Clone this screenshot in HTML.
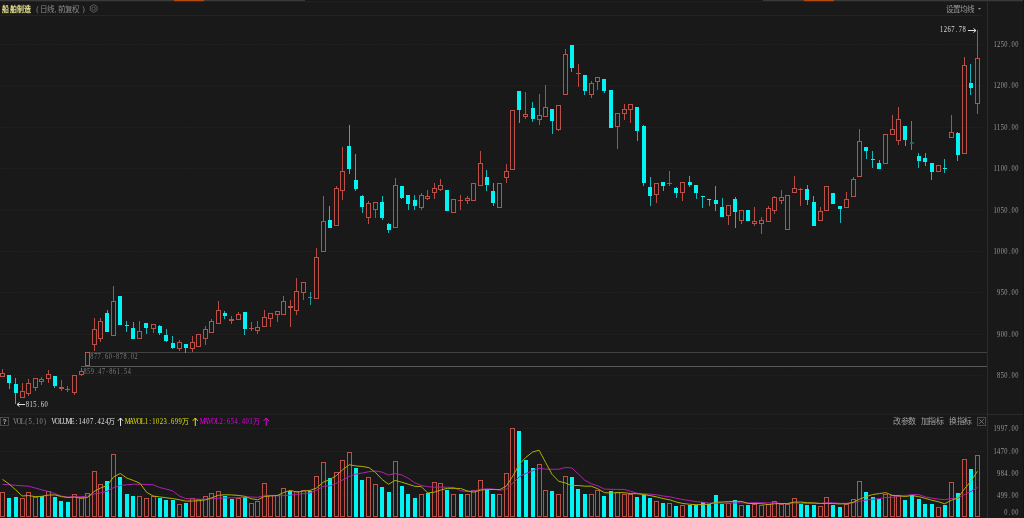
<!DOCTYPE html>
<html lang="zh-CN"><head><meta charset="utf-8">
<style>
html,body{margin:0;padding:0;background:#191919;}
body{width:1024px;height:518px;overflow:hidden;position:relative;font-family:"Liberation Sans",sans-serif;}
svg{position:absolute;left:0;top:0;filter:blur(0.35px);}
.m{font-family:"Liberation Mono",monospace;}
</style></head><body>
<svg width="1024" height="518" viewBox="0 0 1024 518">
<rect x="0" y="0" width="1024" height="518" fill="#191919"/>
<!-- top bar -->
<rect x="0" y="0" width="305" height="1.3" fill="#3a3a3a"/>
<rect x="763" y="0" width="260" height="1.3" fill="#3a3a3a"/>
<rect x="305" y="0" width="458" height="1" fill="#181818"/>
<rect x="305" y="1.2" width="458" height="0.8" fill="#222"/>
<rect x="174" y="0" width="30" height="1.2" fill="#b4480e"/>
<rect x="804" y="0" width="30" height="1.2" fill="#b4480e"/>
<!-- title underline -->
<rect x="0" y="15" width="982" height="1" fill="#242424"/>
<!-- right axis separator -->
<rect x="987" y="2" width="1" height="516" fill="#2c2c2c"/>
<rect x="1023" y="0" width="1" height="518" fill="#141414"/>
<!-- panel separator -->
<rect x="0" y="413" width="987" height="2" fill="#1e1e1e"/><rect x="988" y="414" width="35" height="1" fill="#2a2a2a"/>
<line x1="0" y1="44.5" x2="987" y2="44.5" stroke="#262626" stroke-width="1" stroke-dasharray="1 1.45"/>
<line x1="0" y1="85.5" x2="987" y2="85.5" stroke="#262626" stroke-width="1" stroke-dasharray="1 1.45"/>
<line x1="0" y1="127.5" x2="987" y2="127.5" stroke="#262626" stroke-width="1" stroke-dasharray="1 1.45"/>
<line x1="0" y1="168.5" x2="987" y2="168.5" stroke="#262626" stroke-width="1" stroke-dasharray="1 1.45"/>
<line x1="0" y1="210.5" x2="987" y2="210.5" stroke="#262626" stroke-width="1" stroke-dasharray="1 1.45"/>
<line x1="0" y1="251.5" x2="987" y2="251.5" stroke="#262626" stroke-width="1" stroke-dasharray="1 1.45"/>
<line x1="0" y1="292.5" x2="987" y2="292.5" stroke="#262626" stroke-width="1" stroke-dasharray="1 1.45"/>
<line x1="0" y1="334.5" x2="987" y2="334.5" stroke="#262626" stroke-width="1" stroke-dasharray="1 1.45"/>
<line x1="0" y1="375.5" x2="987" y2="375.5" stroke="#262626" stroke-width="1" stroke-dasharray="1 1.45"/>
<line x1="0" y1="428.5" x2="987" y2="428.5" stroke="#262626" stroke-width="1" stroke-dasharray="1 1.45"/>
<line x1="0" y1="451.5" x2="987" y2="451.5" stroke="#262626" stroke-width="1" stroke-dasharray="1 1.45"/>
<line x1="0" y1="473.5" x2="987" y2="473.5" stroke="#262626" stroke-width="1" stroke-dasharray="1 1.45"/>
<line x1="0" y1="494.5" x2="987" y2="494.5" stroke="#262626" stroke-width="1" stroke-dasharray="1 1.45"/>
<rect x="88" y="352" width="899" height="1" fill="#424242"/>
<rect x="81" y="366" width="906" height="1" fill="#585858"/>
<rect x="2" y="369" width="1" height="4" fill="#b84c45"/>
<rect x="0.5" y="373.5" width="4" height="3" fill="none" stroke="#bb5049" stroke-width="1"/>
<rect x="9" y="383" width="1" height="6" fill="#18b8b8"/>
<rect x="7" y="375" width="4" height="8" fill="#00f4f4"/>
<rect x="15" y="378" width="1" height="6" fill="#18b8b8"/>
<rect x="15" y="393" width="1" height="11" fill="#18b8b8"/>
<rect x="14" y="384" width="4" height="9" fill="#00f4f4"/>
<rect x="22" y="383" width="1" height="8" fill="#b84c45"/>
<rect x="20.5" y="391.5" width="4" height="6" fill="none" stroke="#bb5049" stroke-width="1"/>
<rect x="28" y="379" width="1" height="4" fill="#b84c45"/>
<rect x="28" y="394" width="1" height="2" fill="#b84c45"/>
<rect x="26.5" y="383.5" width="4" height="10" fill="none" stroke="#bb5049" stroke-width="1"/>
<rect x="35" y="388" width="1" height="3" fill="#b84c45"/>
<rect x="33.5" y="378.5" width="4" height="9" fill="none" stroke="#bb5049" stroke-width="1"/>
<rect x="41" y="377" width="1" height="2" fill="#b84c45"/>
<rect x="41" y="382" width="1" height="3" fill="#b84c45"/>
<rect x="39.5" y="379.5" width="4" height="2" fill="none" stroke="#bb5049" stroke-width="1"/>
<rect x="48" y="370" width="1" height="4" fill="#b84c45"/>
<rect x="48" y="379" width="1" height="4" fill="#b84c45"/>
<rect x="46.5" y="374.5" width="4" height="4" fill="none" stroke="#bb5049" stroke-width="1"/>
<rect x="54" y="386" width="1" height="2" fill="#18b8b8"/>
<rect x="53" y="376" width="4" height="10" fill="#00f4f4"/>
<rect x="61" y="380" width="1" height="7" fill="#b84c45"/>
<rect x="61" y="389" width="1" height="2" fill="#b84c45"/>
<rect x="59.5" y="387.5" width="4" height="1" fill="none" stroke="#bb5049" stroke-width="1"/>
<rect x="67" y="386" width="1" height="3" fill="#b84c45"/>
<rect x="67" y="390" width="1" height="2" fill="#b84c45"/>
<rect x="65" y="389" width="5" height="1" fill="#bb5049"/>
<rect x="74" y="393" width="1" height="2" fill="#b84c45"/>
<rect x="72.5" y="375.5" width="4" height="17" fill="none" stroke="#bb5049" stroke-width="1"/>
<rect x="81" y="368" width="1" height="3" fill="#b84c45"/>
<rect x="81" y="375" width="1" height="1" fill="#b84c45"/>
<rect x="79.5" y="371.5" width="4" height="3" fill="none" stroke="#bb5049" stroke-width="1"/>
<rect x="85.5" y="352.5" width="4" height="13" fill="none" stroke="#bb5049" stroke-width="1"/>
<rect x="94" y="318" width="1" height="11" fill="#b84c45"/>
<rect x="94" y="345" width="1" height="6" fill="#b84c45"/>
<rect x="92.5" y="329.5" width="4" height="15" fill="none" stroke="#bb5049" stroke-width="1"/>
<rect x="100" y="318" width="1" height="3" fill="#b84c45"/>
<rect x="100" y="339" width="1" height="3" fill="#b84c45"/>
<rect x="98.5" y="321.5" width="4" height="17" fill="none" stroke="#bb5049" stroke-width="1"/>
<rect x="107" y="310" width="1" height="3" fill="#18b8b8"/>
<rect x="105" y="313" width="4" height="19" fill="#00f4f4"/>
<rect x="113" y="286" width="1" height="15" fill="#b84c45"/>
<rect x="111.5" y="301.5" width="4" height="34" fill="none" stroke="#bb5049" stroke-width="1"/>
<rect x="118" y="296" width="4" height="29" fill="#00f4f4"/>
<rect x="126" y="321" width="1" height="4" fill="#18b8b8"/>
<rect x="126" y="326" width="1" height="6" fill="#18b8b8"/>
<rect x="125" y="325" width="4" height="1" fill="#00f4f4"/>
<rect x="133" y="322" width="1" height="6" fill="#18b8b8"/>
<rect x="131" y="328" width="4" height="11" fill="#00f4f4"/>
<rect x="139" y="321" width="1" height="10" fill="#b84c45"/>
<rect x="137.5" y="331.5" width="4" height="7" fill="none" stroke="#bb5049" stroke-width="1"/>
<rect x="146" y="328" width="1" height="6" fill="#18b8b8"/>
<rect x="144" y="323" width="4" height="5" fill="#00f4f4"/>
<rect x="153" y="329" width="1" height="4" fill="#b84c45"/>
<rect x="151.5" y="324.5" width="4" height="4" fill="none" stroke="#bb5049" stroke-width="1"/>
<rect x="159" y="325" width="1" height="1" fill="#18b8b8"/>
<rect x="159" y="333" width="1" height="2" fill="#18b8b8"/>
<rect x="158" y="326" width="4" height="7" fill="#00f4f4"/>
<rect x="166" y="329" width="1" height="6" fill="#18b8b8"/>
<rect x="166" y="341" width="1" height="1" fill="#18b8b8"/>
<rect x="164" y="335" width="4" height="6" fill="#00f4f4"/>
<rect x="172" y="336" width="1" height="7" fill="#18b8b8"/>
<rect x="172" y="348" width="1" height="1" fill="#18b8b8"/>
<rect x="171" y="343" width="4" height="5" fill="#00f4f4"/>
<rect x="179" y="340" width="1" height="2" fill="#b84c45"/>
<rect x="179" y="349" width="1" height="2" fill="#b84c45"/>
<rect x="177.5" y="342.5" width="4" height="6" fill="none" stroke="#bb5049" stroke-width="1"/>
<rect x="185" y="348" width="1" height="5" fill="#18b8b8"/>
<rect x="184" y="344" width="4" height="4" fill="#00f4f4"/>
<rect x="192" y="336" width="1" height="6" fill="#b84c45"/>
<rect x="192" y="349" width="1" height="3" fill="#b84c45"/>
<rect x="190.5" y="342.5" width="4" height="6" fill="none" stroke="#bb5049" stroke-width="1"/>
<rect x="196.5" y="334.5" width="4" height="12" fill="none" stroke="#bb5049" stroke-width="1"/>
<rect x="205" y="326" width="1" height="3" fill="#b84c45"/>
<rect x="205" y="339" width="1" height="6" fill="#b84c45"/>
<rect x="203.5" y="329.5" width="4" height="9" fill="none" stroke="#bb5049" stroke-width="1"/>
<rect x="211" y="319" width="1" height="2" fill="#b84c45"/>
<rect x="209.5" y="321.5" width="4" height="11" fill="none" stroke="#bb5049" stroke-width="1"/>
<rect x="218" y="301" width="1" height="9" fill="#b84c45"/>
<rect x="216.5" y="310.5" width="4" height="13" fill="none" stroke="#bb5049" stroke-width="1"/>
<rect x="224" y="311" width="1" height="2" fill="#18b8b8"/>
<rect x="224" y="316" width="1" height="3" fill="#18b8b8"/>
<rect x="223" y="313" width="4" height="3" fill="#00f4f4"/>
<rect x="231" y="316" width="1" height="3" fill="#b84c45"/>
<rect x="231" y="321" width="1" height="3" fill="#b84c45"/>
<rect x="229.5" y="319.5" width="4" height="1" fill="none" stroke="#bb5049" stroke-width="1"/>
<rect x="238" y="312" width="1" height="2" fill="#b84c45"/>
<rect x="236.5" y="314.5" width="4" height="5" fill="none" stroke="#bb5049" stroke-width="1"/>
<rect x="244" y="329" width="1" height="6" fill="#18b8b8"/>
<rect x="243" y="312" width="4" height="17" fill="#00f4f4"/>
<rect x="251" y="322" width="1" height="6" fill="#b84c45"/>
<rect x="251" y="329" width="1" height="2" fill="#b84c45"/>
<rect x="249" y="328" width="5" height="1" fill="#bb5049"/>
<rect x="257" y="321" width="1" height="6" fill="#b84c45"/>
<rect x="257" y="331" width="1" height="3" fill="#b84c45"/>
<rect x="255.5" y="327.5" width="4" height="3" fill="none" stroke="#bb5049" stroke-width="1"/>
<rect x="264" y="310" width="1" height="7" fill="#b84c45"/>
<rect x="262.5" y="317.5" width="4" height="9" fill="none" stroke="#bb5049" stroke-width="1"/>
<rect x="270" y="319" width="1" height="8" fill="#b84c45"/>
<rect x="268.5" y="313.5" width="4" height="5" fill="none" stroke="#bb5049" stroke-width="1"/>
<rect x="277" y="315" width="1" height="7" fill="#b84c45"/>
<rect x="275.5" y="311.5" width="4" height="3" fill="none" stroke="#bb5049" stroke-width="1"/>
<rect x="283" y="296" width="1" height="5" fill="#b84c45"/>
<rect x="281.5" y="301.5" width="4" height="13" fill="none" stroke="#bb5049" stroke-width="1"/>
<rect x="290" y="300" width="1" height="6" fill="#b84c45"/>
<rect x="290" y="308" width="1" height="19" fill="#b84c45"/>
<rect x="288.5" y="306.5" width="4" height="1" fill="none" stroke="#bb5049" stroke-width="1"/>
<rect x="296" y="278" width="1" height="13" fill="#b84c45"/>
<rect x="296" y="311" width="1" height="4" fill="#b84c45"/>
<rect x="294.5" y="291.5" width="4" height="19" fill="none" stroke="#bb5049" stroke-width="1"/>
<rect x="303" y="293" width="1" height="7" fill="#b84c45"/>
<rect x="301.5" y="282.5" width="4" height="10" fill="none" stroke="#bb5049" stroke-width="1"/>
<rect x="310" y="292" width="1" height="5" fill="#1a9c9c"/>
<rect x="310" y="298" width="1" height="7" fill="#1a9c9c"/>
<rect x="308" y="297" width="4" height="1" fill="#1a9c9c"/>
<rect x="316" y="248" width="1" height="9" fill="#b84c45"/>
<rect x="314.5" y="257.5" width="4" height="41" fill="none" stroke="#bb5049" stroke-width="1"/>
<rect x="323" y="196" width="1" height="25" fill="#b84c45"/>
<rect x="321.5" y="221.5" width="4" height="30" fill="none" stroke="#bb5049" stroke-width="1"/>
<rect x="329" y="206" width="1" height="14" fill="#18b8b8"/>
<rect x="328" y="220" width="4" height="8" fill="#00f4f4"/>
<rect x="336" y="186" width="1" height="2" fill="#b84c45"/>
<rect x="334.5" y="188.5" width="4" height="37" fill="none" stroke="#bb5049" stroke-width="1"/>
<rect x="342" y="147" width="1" height="24" fill="#b84c45"/>
<rect x="342" y="191" width="1" height="9" fill="#b84c45"/>
<rect x="340.5" y="171.5" width="4" height="19" fill="none" stroke="#bb5049" stroke-width="1"/>
<rect x="349" y="125" width="1" height="21" fill="#18b8b8"/>
<rect x="349" y="169" width="1" height="5" fill="#18b8b8"/>
<rect x="347" y="146" width="4" height="23" fill="#00f4f4"/>
<rect x="355" y="154" width="1" height="26" fill="#18b8b8"/>
<rect x="355" y="189" width="1" height="2" fill="#18b8b8"/>
<rect x="354" y="180" width="4" height="9" fill="#00f4f4"/>
<rect x="362" y="195" width="1" height="1" fill="#18b8b8"/>
<rect x="362" y="207" width="1" height="6" fill="#18b8b8"/>
<rect x="360" y="196" width="4" height="11" fill="#00f4f4"/>
<rect x="368" y="201" width="1" height="2" fill="#b84c45"/>
<rect x="368" y="218" width="1" height="6" fill="#b84c45"/>
<rect x="366.5" y="203.5" width="4" height="14" fill="none" stroke="#bb5049" stroke-width="1"/>
<rect x="375" y="210" width="1" height="8" fill="#b84c45"/>
<rect x="373.5" y="202.5" width="4" height="7" fill="none" stroke="#bb5049" stroke-width="1"/>
<rect x="382" y="196" width="1" height="6" fill="#18b8b8"/>
<rect x="382" y="218" width="1" height="2" fill="#18b8b8"/>
<rect x="380" y="202" width="4" height="16" fill="#00f4f4"/>
<rect x="388" y="223" width="1" height="1" fill="#18b8b8"/>
<rect x="388" y="230" width="1" height="3" fill="#18b8b8"/>
<rect x="387" y="224" width="4" height="6" fill="#00f4f4"/>
<rect x="395" y="178" width="1" height="7" fill="#b84c45"/>
<rect x="393.5" y="185.5" width="4" height="42" fill="none" stroke="#bb5049" stroke-width="1"/>
<rect x="401" y="198" width="1" height="1" fill="#18b8b8"/>
<rect x="400" y="186" width="4" height="12" fill="#00f4f4"/>
<rect x="408" y="204" width="1" height="6" fill="#18b8b8"/>
<rect x="406" y="195" width="4" height="9" fill="#00f4f4"/>
<rect x="414" y="195" width="1" height="5" fill="#18b8b8"/>
<rect x="414" y="206" width="1" height="4" fill="#18b8b8"/>
<rect x="413" y="200" width="4" height="6" fill="#00f4f4"/>
<rect x="421" y="193" width="1" height="2" fill="#b84c45"/>
<rect x="421" y="208" width="1" height="2" fill="#b84c45"/>
<rect x="419.5" y="195.5" width="4" height="12" fill="none" stroke="#bb5049" stroke-width="1"/>
<rect x="427" y="190" width="1" height="6" fill="#b84c45"/>
<rect x="427" y="199" width="1" height="1" fill="#b84c45"/>
<rect x="425.5" y="196.5" width="4" height="2" fill="none" stroke="#bb5049" stroke-width="1"/>
<rect x="434" y="183" width="1" height="5" fill="#b84c45"/>
<rect x="434" y="193" width="1" height="6" fill="#b84c45"/>
<rect x="432.5" y="188.5" width="4" height="4" fill="none" stroke="#bb5049" stroke-width="1"/>
<rect x="440" y="179" width="1" height="6" fill="#b84c45"/>
<rect x="440" y="190" width="1" height="1" fill="#b84c45"/>
<rect x="438.5" y="185.5" width="4" height="4" fill="none" stroke="#bb5049" stroke-width="1"/>
<rect x="445" y="190" width="4" height="21" fill="#00f4f4"/>
<rect x="451.5" y="199.5" width="4" height="13" fill="none" stroke="#bb5049" stroke-width="1"/>
<rect x="460" y="195" width="1" height="5" fill="#b84c45"/>
<rect x="460" y="201" width="1" height="9" fill="#b84c45"/>
<rect x="458" y="200" width="5" height="1" fill="#bb5049"/>
<rect x="467" y="196" width="1" height="2" fill="#b84c45"/>
<rect x="467" y="201" width="1" height="3" fill="#b84c45"/>
<rect x="465.5" y="198.5" width="4" height="2" fill="none" stroke="#bb5049" stroke-width="1"/>
<rect x="471.5" y="183.5" width="4" height="17" fill="none" stroke="#bb5049" stroke-width="1"/>
<rect x="480" y="151" width="1" height="12" fill="#b84c45"/>
<rect x="478.5" y="163.5" width="4" height="22" fill="none" stroke="#bb5049" stroke-width="1"/>
<rect x="486" y="170" width="1" height="7" fill="#18b8b8"/>
<rect x="486" y="185" width="1" height="6" fill="#18b8b8"/>
<rect x="485" y="177" width="4" height="8" fill="#00f4f4"/>
<rect x="493" y="183" width="1" height="8" fill="#18b8b8"/>
<rect x="493" y="203" width="1" height="3" fill="#18b8b8"/>
<rect x="491" y="191" width="4" height="12" fill="#00f4f4"/>
<rect x="497.5" y="183.5" width="4" height="24" fill="none" stroke="#bb5049" stroke-width="1"/>
<rect x="506" y="164" width="1" height="7" fill="#b84c45"/>
<rect x="506" y="178" width="1" height="5" fill="#b84c45"/>
<rect x="504.5" y="171.5" width="4" height="6" fill="none" stroke="#bb5049" stroke-width="1"/>
<rect x="510.5" y="110.5" width="4" height="59" fill="none" stroke="#bb5049" stroke-width="1"/>
<rect x="519" y="110" width="1" height="13" fill="#18b8b8"/>
<rect x="517" y="91" width="4" height="19" fill="#00f4f4"/>
<rect x="525" y="92" width="1" height="22" fill="#b84c45"/>
<rect x="525" y="117" width="1" height="2" fill="#b84c45"/>
<rect x="523.5" y="114.5" width="4" height="2" fill="none" stroke="#bb5049" stroke-width="1"/>
<rect x="532" y="102" width="1" height="6" fill="#18b8b8"/>
<rect x="532" y="119" width="1" height="3" fill="#18b8b8"/>
<rect x="531" y="108" width="4" height="11" fill="#00f4f4"/>
<rect x="539" y="94" width="1" height="21" fill="#b84c45"/>
<rect x="539" y="120" width="1" height="5" fill="#b84c45"/>
<rect x="537.5" y="115.5" width="4" height="4" fill="none" stroke="#bb5049" stroke-width="1"/>
<rect x="545" y="85" width="1" height="22" fill="#b84c45"/>
<rect x="543.5" y="107.5" width="4" height="9" fill="none" stroke="#bb5049" stroke-width="1"/>
<rect x="552" y="121" width="1" height="13" fill="#18b8b8"/>
<rect x="550" y="109" width="4" height="12" fill="#00f4f4"/>
<rect x="558" y="130" width="1" height="1" fill="#b84c45"/>
<rect x="556.5" y="105.5" width="4" height="24" fill="none" stroke="#bb5049" stroke-width="1"/>
<rect x="565" y="49" width="1" height="5" fill="#b84c45"/>
<rect x="563.5" y="54.5" width="4" height="40" fill="none" stroke="#bb5049" stroke-width="1"/>
<rect x="571" y="68" width="1" height="4" fill="#18b8b8"/>
<rect x="570" y="45" width="4" height="23" fill="#00f4f4"/>
<rect x="578" y="64" width="1" height="9" fill="#b84c45"/>
<rect x="578" y="74" width="1" height="13" fill="#b84c45"/>
<rect x="576" y="73" width="5" height="1" fill="#bb5049"/>
<rect x="584" y="91" width="1" height="4" fill="#18b8b8"/>
<rect x="583" y="75" width="4" height="16" fill="#00f4f4"/>
<rect x="591" y="81" width="1" height="2" fill="#b84c45"/>
<rect x="591" y="95" width="1" height="3" fill="#b84c45"/>
<rect x="589.5" y="83.5" width="4" height="11" fill="none" stroke="#bb5049" stroke-width="1"/>
<rect x="597" y="82" width="1" height="8" fill="#b84c45"/>
<rect x="595.5" y="77.5" width="4" height="4" fill="none" stroke="#bb5049" stroke-width="1"/>
<rect x="604" y="91" width="1" height="2" fill="#18b8b8"/>
<rect x="602" y="79" width="4" height="12" fill="#00f4f4"/>
<rect x="609" y="90" width="4" height="38" fill="#00f4f4"/>
<rect x="617" y="127" width="1" height="22" fill="#b84c45"/>
<rect x="615.5" y="113.5" width="4" height="13" fill="none" stroke="#bb5049" stroke-width="1"/>
<rect x="624" y="104" width="1" height="5" fill="#b84c45"/>
<rect x="624" y="114" width="1" height="6" fill="#b84c45"/>
<rect x="622.5" y="109.5" width="4" height="4" fill="none" stroke="#bb5049" stroke-width="1"/>
<rect x="630" y="110" width="1" height="13" fill="#b84c45"/>
<rect x="628.5" y="104.5" width="4" height="5" fill="none" stroke="#bb5049" stroke-width="1"/>
<rect x="637" y="131" width="1" height="10" fill="#18b8b8"/>
<rect x="635" y="107" width="4" height="24" fill="#00f4f4"/>
<rect x="643" y="125" width="1" height="1" fill="#18b8b8"/>
<rect x="643" y="183" width="1" height="3" fill="#18b8b8"/>
<rect x="642" y="126" width="4" height="57" fill="#00f4f4"/>
<rect x="650" y="177" width="1" height="10" fill="#18b8b8"/>
<rect x="650" y="196" width="1" height="10" fill="#18b8b8"/>
<rect x="648" y="187" width="4" height="9" fill="#00f4f4"/>
<rect x="656" y="195" width="1" height="8" fill="#b84c45"/>
<rect x="654.5" y="183.5" width="4" height="11" fill="none" stroke="#bb5049" stroke-width="1"/>
<rect x="663" y="186" width="1" height="5" fill="#18b8b8"/>
<rect x="661" y="182" width="4" height="4" fill="#00f4f4"/>
<rect x="669" y="171" width="1" height="12" fill="#b84c45"/>
<rect x="669" y="184" width="1" height="2" fill="#b84c45"/>
<rect x="667" y="183" width="5" height="1" fill="#bb5049"/>
<rect x="676" y="187" width="1" height="1" fill="#18b8b8"/>
<rect x="676" y="193" width="1" height="5" fill="#18b8b8"/>
<rect x="674" y="188" width="4" height="5" fill="#00f4f4"/>
<rect x="682" y="193" width="1" height="8" fill="#b84c45"/>
<rect x="680.5" y="182.5" width="4" height="10" fill="none" stroke="#bb5049" stroke-width="1"/>
<rect x="689" y="176" width="1" height="6" fill="#18b8b8"/>
<rect x="689" y="185" width="1" height="2" fill="#18b8b8"/>
<rect x="688" y="182" width="4" height="3" fill="#00f4f4"/>
<rect x="696" y="193" width="1" height="6" fill="#18b8b8"/>
<rect x="694" y="185" width="4" height="8" fill="#00f4f4"/>
<rect x="702" y="197" width="1" height="11" fill="#18b8b8"/>
<rect x="701" y="196" width="4" height="1" fill="#00f4f4"/>
<rect x="709" y="200" width="1" height="6" fill="#18b8b8"/>
<rect x="707" y="199" width="4" height="1" fill="#00f4f4"/>
<rect x="715" y="186" width="1" height="14" fill="#18b8b8"/>
<rect x="715" y="204" width="1" height="7" fill="#18b8b8"/>
<rect x="714" y="200" width="4" height="4" fill="#00f4f4"/>
<rect x="722" y="198" width="1" height="9" fill="#18b8b8"/>
<rect x="720" y="207" width="4" height="10" fill="#00f4f4"/>
<rect x="728" y="216" width="1" height="9" fill="#b84c45"/>
<rect x="726.5" y="205.5" width="4" height="10" fill="none" stroke="#bb5049" stroke-width="1"/>
<rect x="735" y="197" width="1" height="2" fill="#18b8b8"/>
<rect x="735" y="212" width="1" height="16" fill="#18b8b8"/>
<rect x="733" y="199" width="4" height="13" fill="#00f4f4"/>
<rect x="741" y="221" width="1" height="3" fill="#b84c45"/>
<rect x="739.5" y="210.5" width="4" height="10" fill="none" stroke="#bb5049" stroke-width="1"/>
<rect x="746" y="210" width="4" height="11" fill="#00f4f4"/>
<rect x="754" y="207" width="1" height="14" fill="#b84c45"/>
<rect x="754" y="224" width="1" height="2" fill="#b84c45"/>
<rect x="752.5" y="221.5" width="4" height="2" fill="none" stroke="#bb5049" stroke-width="1"/>
<rect x="761" y="217" width="1" height="3" fill="#b84c45"/>
<rect x="761" y="224" width="1" height="10" fill="#b84c45"/>
<rect x="759.5" y="220.5" width="4" height="3" fill="none" stroke="#bb5049" stroke-width="1"/>
<rect x="768" y="206" width="1" height="2" fill="#b84c45"/>
<rect x="766.5" y="208.5" width="4" height="13" fill="none" stroke="#bb5049" stroke-width="1"/>
<rect x="774" y="196" width="1" height="1" fill="#b84c45"/>
<rect x="774" y="211" width="1" height="3" fill="#b84c45"/>
<rect x="772.5" y="197.5" width="4" height="13" fill="none" stroke="#bb5049" stroke-width="1"/>
<rect x="781" y="190" width="1" height="7" fill="#b84c45"/>
<rect x="781" y="201" width="1" height="3" fill="#b84c45"/>
<rect x="779.5" y="197.5" width="4" height="3" fill="none" stroke="#bb5049" stroke-width="1"/>
<rect x="785.5" y="195.5" width="4" height="34" fill="none" stroke="#bb5049" stroke-width="1"/>
<rect x="794" y="176" width="1" height="12" fill="#b84c45"/>
<rect x="792.5" y="188.5" width="4" height="4" fill="none" stroke="#bb5049" stroke-width="1"/>
<rect x="800" y="188" width="1" height="1" fill="#b84c45"/>
<rect x="800" y="190" width="1" height="16" fill="#b84c45"/>
<rect x="798" y="189" width="5" height="1" fill="#bb5049"/>
<rect x="807" y="185" width="1" height="4" fill="#18b8b8"/>
<rect x="807" y="200" width="1" height="5" fill="#18b8b8"/>
<rect x="805" y="189" width="4" height="11" fill="#00f4f4"/>
<rect x="813" y="196" width="1" height="6" fill="#18b8b8"/>
<rect x="812" y="202" width="4" height="24" fill="#00f4f4"/>
<rect x="820" y="207" width="1" height="4" fill="#b84c45"/>
<rect x="818.5" y="211.5" width="4" height="9" fill="none" stroke="#bb5049" stroke-width="1"/>
<rect x="824.5" y="186.5" width="4" height="24" fill="none" stroke="#bb5049" stroke-width="1"/>
<rect x="831" y="193" width="4" height="11" fill="#00f4f4"/>
<rect x="840" y="209" width="1" height="14" fill="#18b8b8"/>
<rect x="838" y="206" width="4" height="3" fill="#00f4f4"/>
<rect x="846" y="192" width="1" height="7" fill="#b84c45"/>
<rect x="844.5" y="199.5" width="4" height="8" fill="none" stroke="#bb5049" stroke-width="1"/>
<rect x="853" y="177" width="1" height="2" fill="#b84c45"/>
<rect x="851.5" y="179.5" width="4" height="17" fill="none" stroke="#bb5049" stroke-width="1"/>
<rect x="859" y="129" width="1" height="12" fill="#b84c45"/>
<rect x="857.5" y="141.5" width="4" height="35" fill="none" stroke="#bb5049" stroke-width="1"/>
<rect x="866" y="151" width="1" height="8" fill="#18b8b8"/>
<rect x="864" y="147" width="4" height="4" fill="#00f4f4"/>
<rect x="872" y="151" width="1" height="8" fill="#18b8b8"/>
<rect x="872" y="160" width="1" height="8" fill="#18b8b8"/>
<rect x="871" y="159" width="4" height="1" fill="#00f4f4"/>
<rect x="879" y="160" width="1" height="3" fill="#18b8b8"/>
<rect x="877" y="163" width="4" height="6" fill="#00f4f4"/>
<rect x="883.5" y="134.5" width="4" height="29" fill="none" stroke="#bb5049" stroke-width="1"/>
<rect x="892" y="115" width="1" height="14" fill="#b84c45"/>
<rect x="890.5" y="129.5" width="4" height="5" fill="none" stroke="#bb5049" stroke-width="1"/>
<rect x="898" y="107" width="1" height="12" fill="#b84c45"/>
<rect x="898" y="141" width="1" height="4" fill="#b84c45"/>
<rect x="896.5" y="119.5" width="4" height="21" fill="none" stroke="#bb5049" stroke-width="1"/>
<rect x="905" y="140" width="1" height="6" fill="#18b8b8"/>
<rect x="903" y="126" width="4" height="14" fill="#00f4f4"/>
<rect x="911" y="121" width="1" height="21.5" fill="#1a9c9c"/>
<rect x="911" y="143.5" width="1" height="6.5" fill="#1a9c9c"/>
<rect x="910" y="142.5" width="4" height="1.0" fill="#1a9c9c"/>
<rect x="918" y="153" width="1" height="3" fill="#18b8b8"/>
<rect x="918" y="161" width="1" height="7" fill="#18b8b8"/>
<rect x="917" y="156" width="4" height="5" fill="#00f4f4"/>
<rect x="925" y="153" width="1" height="5" fill="#18b8b8"/>
<rect x="925" y="162" width="1" height="4" fill="#18b8b8"/>
<rect x="923" y="158" width="4" height="4" fill="#00f4f4"/>
<rect x="931" y="172" width="1" height="8" fill="#18b8b8"/>
<rect x="930" y="163" width="4" height="9" fill="#00f4f4"/>
<rect x="936.5" y="165.5" width="4" height="6" fill="none" stroke="#bb5049" stroke-width="1"/>
<rect x="944" y="159" width="1" height="9" fill="#18b8b8"/>
<rect x="944" y="169" width="1" height="4" fill="#18b8b8"/>
<rect x="943" y="168" width="4" height="1" fill="#00f4f4"/>
<rect x="951" y="115" width="1" height="17" fill="#b84c45"/>
<rect x="949.5" y="132.5" width="4" height="5" fill="none" stroke="#bb5049" stroke-width="1"/>
<rect x="957" y="132" width="1" height="1" fill="#18b8b8"/>
<rect x="957" y="155" width="1" height="6" fill="#18b8b8"/>
<rect x="956" y="133" width="4" height="22" fill="#00f4f4"/>
<rect x="964" y="57" width="1" height="8" fill="#b84c45"/>
<rect x="962.5" y="65.5" width="4" height="88" fill="none" stroke="#bb5049" stroke-width="1"/>
<rect x="970" y="64" width="1" height="19" fill="#18b8b8"/>
<rect x="970" y="88" width="1" height="7" fill="#18b8b8"/>
<rect x="969" y="83" width="4" height="5" fill="#00f4f4"/>
<rect x="977" y="30" width="1" height="28" fill="#b84c45"/>
<rect x="977" y="104" width="1" height="10" fill="#b84c45"/>
<rect x="975.5" y="58.5" width="4" height="45" fill="none" stroke="#bb5049" stroke-width="1"/>
<rect x="0.5" y="492.5" width="4" height="24" fill="none" stroke="#bb5049" stroke-width="1"/>
<rect x="7" y="498" width="4" height="19" fill="#00f4f4"/>
<rect x="14" y="497" width="4" height="20" fill="#00f4f4"/>
<rect x="20.5" y="498.5" width="4" height="18" fill="none" stroke="#bb5049" stroke-width="1"/>
<rect x="26.5" y="492.5" width="4" height="24" fill="none" stroke="#bb5049" stroke-width="1"/>
<rect x="33.5" y="497.5" width="4" height="19" fill="none" stroke="#bb5049" stroke-width="1"/>
<rect x="40" y="496" width="4" height="21" fill="#00f4f4"/>
<rect x="46.5" y="491.5" width="4" height="25" fill="none" stroke="#bb5049" stroke-width="1"/>
<rect x="53" y="497" width="4" height="20" fill="#00f4f4"/>
<rect x="59" y="501" width="4" height="16" fill="#00f4f4"/>
<rect x="66" y="502" width="4" height="15" fill="#00f4f4"/>
<rect x="72.5" y="494.5" width="4" height="22" fill="none" stroke="#bb5049" stroke-width="1"/>
<rect x="79.5" y="497.5" width="4" height="19" fill="none" stroke="#bb5049" stroke-width="1"/>
<rect x="85.5" y="493.5" width="4" height="23" fill="none" stroke="#bb5049" stroke-width="1"/>
<rect x="92.5" y="471.5" width="4" height="45" fill="none" stroke="#bb5049" stroke-width="1"/>
<rect x="98.5" y="484.5" width="4" height="32" fill="none" stroke="#bb5049" stroke-width="1"/>
<rect x="105" y="481" width="4" height="36" fill="#00f4f4"/>
<rect x="111.5" y="454.5" width="4" height="62" fill="none" stroke="#bb5049" stroke-width="1"/>
<rect x="118" y="477" width="4" height="40" fill="#00f4f4"/>
<rect x="125" y="494" width="4" height="23" fill="#00f4f4"/>
<rect x="131" y="496" width="4" height="21" fill="#00f4f4"/>
<rect x="137.5" y="496.5" width="4" height="20" fill="none" stroke="#bb5049" stroke-width="1"/>
<rect x="144.5" y="498.5" width="4" height="18" fill="none" stroke="#bb5049" stroke-width="1"/>
<rect x="151.5" y="496.5" width="4" height="20" fill="none" stroke="#bb5049" stroke-width="1"/>
<rect x="158" y="498" width="4" height="19" fill="#00f4f4"/>
<rect x="164" y="500" width="4" height="17" fill="#00f4f4"/>
<rect x="171" y="500" width="4" height="17" fill="#00f4f4"/>
<rect x="177.5" y="504.5" width="4" height="12" fill="none" stroke="#bb5049" stroke-width="1"/>
<rect x="184" y="503" width="4" height="14" fill="#00f4f4"/>
<rect x="190.5" y="498.5" width="4" height="18" fill="none" stroke="#bb5049" stroke-width="1"/>
<rect x="196.5" y="499.5" width="4" height="17" fill="none" stroke="#bb5049" stroke-width="1"/>
<rect x="203.5" y="496.5" width="4" height="20" fill="none" stroke="#bb5049" stroke-width="1"/>
<rect x="209.5" y="493.5" width="4" height="23" fill="none" stroke="#bb5049" stroke-width="1"/>
<rect x="216.5" y="491.5" width="4" height="25" fill="none" stroke="#bb5049" stroke-width="1"/>
<rect x="223" y="496" width="4" height="21" fill="#00f4f4"/>
<rect x="230" y="499" width="4" height="18" fill="#00f4f4"/>
<rect x="236.5" y="498.5" width="4" height="18" fill="none" stroke="#bb5049" stroke-width="1"/>
<rect x="243" y="497" width="4" height="20" fill="#00f4f4"/>
<rect x="249.5" y="503.5" width="4" height="13" fill="none" stroke="#bb5049" stroke-width="1"/>
<rect x="255.5" y="501.5" width="4" height="15" fill="none" stroke="#bb5049" stroke-width="1"/>
<rect x="262.5" y="483.5" width="4" height="33" fill="none" stroke="#bb5049" stroke-width="1"/>
<rect x="268.5" y="495.5" width="4" height="21" fill="none" stroke="#bb5049" stroke-width="1"/>
<rect x="275.5" y="495.5" width="4" height="21" fill="none" stroke="#bb5049" stroke-width="1"/>
<rect x="281.5" y="488.5" width="4" height="28" fill="none" stroke="#bb5049" stroke-width="1"/>
<rect x="288" y="491" width="4" height="26" fill="#00f4f4"/>
<rect x="294.5" y="491.5" width="4" height="25" fill="none" stroke="#bb5049" stroke-width="1"/>
<rect x="301.5" y="490.5" width="4" height="26" fill="none" stroke="#bb5049" stroke-width="1"/>
<rect x="308" y="491" width="4" height="26" fill="#00f4f4"/>
<rect x="314.5" y="476.5" width="4" height="40" fill="none" stroke="#bb5049" stroke-width="1"/>
<rect x="321.5" y="462.5" width="4" height="54" fill="none" stroke="#bb5049" stroke-width="1"/>
<rect x="328" y="478" width="4" height="39" fill="#00f4f4"/>
<rect x="334.5" y="472.5" width="4" height="44" fill="none" stroke="#bb5049" stroke-width="1"/>
<rect x="340.5" y="460.5" width="4" height="56" fill="none" stroke="#bb5049" stroke-width="1"/>
<rect x="347.5" y="452.5" width="4" height="64" fill="none" stroke="#bb5049" stroke-width="1"/>
<rect x="354" y="468" width="4" height="49" fill="#00f4f4"/>
<rect x="360" y="480" width="4" height="37" fill="#00f4f4"/>
<rect x="366.5" y="477.5" width="4" height="39" fill="none" stroke="#bb5049" stroke-width="1"/>
<rect x="373.5" y="484.5" width="4" height="32" fill="none" stroke="#bb5049" stroke-width="1"/>
<rect x="380" y="487" width="4" height="30" fill="#00f4f4"/>
<rect x="387" y="492" width="4" height="25" fill="#00f4f4"/>
<rect x="393.5" y="461.5" width="4" height="55" fill="none" stroke="#bb5049" stroke-width="1"/>
<rect x="400" y="486" width="4" height="31" fill="#00f4f4"/>
<rect x="406" y="494" width="4" height="23" fill="#00f4f4"/>
<rect x="413" y="498" width="4" height="19" fill="#00f4f4"/>
<rect x="419.5" y="494.5" width="4" height="22" fill="none" stroke="#bb5049" stroke-width="1"/>
<rect x="426" y="493" width="4" height="24" fill="#00f4f4"/>
<rect x="432.5" y="482.5" width="4" height="34" fill="none" stroke="#bb5049" stroke-width="1"/>
<rect x="438.5" y="483.5" width="4" height="33" fill="none" stroke="#bb5049" stroke-width="1"/>
<rect x="445" y="490" width="4" height="27" fill="#00f4f4"/>
<rect x="451.5" y="494.5" width="4" height="22" fill="none" stroke="#bb5049" stroke-width="1"/>
<rect x="459" y="494" width="4" height="23" fill="#00f4f4"/>
<rect x="465.5" y="494.5" width="4" height="22" fill="none" stroke="#bb5049" stroke-width="1"/>
<rect x="471.5" y="490.5" width="4" height="26" fill="none" stroke="#bb5049" stroke-width="1"/>
<rect x="478.5" y="480.5" width="4" height="36" fill="none" stroke="#bb5049" stroke-width="1"/>
<rect x="485" y="490" width="4" height="27" fill="#00f4f4"/>
<rect x="491" y="494" width="4" height="23" fill="#00f4f4"/>
<rect x="497.5" y="494.5" width="4" height="22" fill="none" stroke="#bb5049" stroke-width="1"/>
<rect x="504.5" y="473.5" width="4" height="43" fill="none" stroke="#bb5049" stroke-width="1"/>
<rect x="510.5" y="428.5" width="4" height="88" fill="none" stroke="#bb5049" stroke-width="1"/>
<rect x="517" y="431" width="4" height="86" fill="#00f4f4"/>
<rect x="524" y="460" width="4" height="57" fill="#00f4f4"/>
<rect x="531" y="468" width="4" height="49" fill="#00f4f4"/>
<rect x="537.5" y="464.5" width="4" height="52" fill="none" stroke="#bb5049" stroke-width="1"/>
<rect x="543.5" y="490.5" width="4" height="26" fill="none" stroke="#bb5049" stroke-width="1"/>
<rect x="550" y="491" width="4" height="26" fill="#00f4f4"/>
<rect x="556.5" y="494.5" width="4" height="22" fill="none" stroke="#bb5049" stroke-width="1"/>
<rect x="563.5" y="476.5" width="4" height="40" fill="none" stroke="#bb5049" stroke-width="1"/>
<rect x="570" y="477" width="4" height="40" fill="#00f4f4"/>
<rect x="576" y="489" width="4" height="28" fill="#00f4f4"/>
<rect x="583" y="494" width="4" height="23" fill="#00f4f4"/>
<rect x="589.5" y="494.5" width="4" height="22" fill="none" stroke="#bb5049" stroke-width="1"/>
<rect x="595.5" y="490.5" width="4" height="26" fill="none" stroke="#bb5049" stroke-width="1"/>
<rect x="602" y="496" width="4" height="21" fill="#00f4f4"/>
<rect x="609" y="491" width="4" height="26" fill="#00f4f4"/>
<rect x="615.5" y="492.5" width="4" height="24" fill="none" stroke="#bb5049" stroke-width="1"/>
<rect x="622.5" y="494.5" width="4" height="22" fill="none" stroke="#bb5049" stroke-width="1"/>
<rect x="628.5" y="494.5" width="4" height="22" fill="none" stroke="#bb5049" stroke-width="1"/>
<rect x="635" y="497" width="4" height="20" fill="#00f4f4"/>
<rect x="642" y="495" width="4" height="22" fill="#00f4f4"/>
<rect x="648" y="498" width="4" height="19" fill="#00f4f4"/>
<rect x="654.5" y="501.5" width="4" height="15" fill="none" stroke="#bb5049" stroke-width="1"/>
<rect x="661" y="503" width="4" height="14" fill="#00f4f4"/>
<rect x="667.5" y="503.5" width="4" height="13" fill="none" stroke="#bb5049" stroke-width="1"/>
<rect x="674" y="506" width="4" height="11" fill="#00f4f4"/>
<rect x="680.5" y="505.5" width="4" height="11" fill="none" stroke="#bb5049" stroke-width="1"/>
<rect x="688" y="505" width="4" height="12" fill="#00f4f4"/>
<rect x="694" y="505" width="4" height="12" fill="#00f4f4"/>
<rect x="701" y="502" width="4" height="15" fill="#00f4f4"/>
<rect x="707" y="504" width="4" height="13" fill="#00f4f4"/>
<rect x="714" y="495" width="4" height="22" fill="#00f4f4"/>
<rect x="720" y="504" width="4" height="13" fill="#00f4f4"/>
<rect x="726.5" y="503.5" width="4" height="13" fill="none" stroke="#bb5049" stroke-width="1"/>
<rect x="733" y="500" width="4" height="17" fill="#00f4f4"/>
<rect x="739.5" y="505.5" width="4" height="11" fill="none" stroke="#bb5049" stroke-width="1"/>
<rect x="746" y="505" width="4" height="12" fill="#00f4f4"/>
<rect x="752.5" y="504.5" width="4" height="12" fill="none" stroke="#bb5049" stroke-width="1"/>
<rect x="759.5" y="505.5" width="4" height="11" fill="none" stroke="#bb5049" stroke-width="1"/>
<rect x="766.5" y="504.5" width="4" height="12" fill="none" stroke="#bb5049" stroke-width="1"/>
<rect x="772.5" y="501.5" width="4" height="15" fill="none" stroke="#bb5049" stroke-width="1"/>
<rect x="779.5" y="504.5" width="4" height="12" fill="none" stroke="#bb5049" stroke-width="1"/>
<rect x="785.5" y="504.5" width="4" height="12" fill="none" stroke="#bb5049" stroke-width="1"/>
<rect x="792.5" y="498.5" width="4" height="18" fill="none" stroke="#bb5049" stroke-width="1"/>
<rect x="799" y="504" width="4" height="13" fill="#00f4f4"/>
<rect x="805" y="505" width="4" height="12" fill="#00f4f4"/>
<rect x="812" y="505" width="4" height="12" fill="#00f4f4"/>
<rect x="818.5" y="506.5" width="4" height="10" fill="none" stroke="#bb5049" stroke-width="1"/>
<rect x="824.5" y="497.5" width="4" height="19" fill="none" stroke="#bb5049" stroke-width="1"/>
<rect x="831" y="505" width="4" height="12" fill="#00f4f4"/>
<rect x="838" y="507" width="4" height="10" fill="#00f4f4"/>
<rect x="844.5" y="504.5" width="4" height="12" fill="none" stroke="#bb5049" stroke-width="1"/>
<rect x="851.5" y="499.5" width="4" height="17" fill="none" stroke="#bb5049" stroke-width="1"/>
<rect x="857.5" y="481.5" width="4" height="35" fill="none" stroke="#bb5049" stroke-width="1"/>
<rect x="864" y="492" width="4" height="25" fill="#00f4f4"/>
<rect x="871" y="497" width="4" height="20" fill="#00f4f4"/>
<rect x="877" y="499" width="4" height="18" fill="#00f4f4"/>
<rect x="883.5" y="494.5" width="4" height="22" fill="none" stroke="#bb5049" stroke-width="1"/>
<rect x="890.5" y="495.5" width="4" height="21" fill="none" stroke="#bb5049" stroke-width="1"/>
<rect x="896.5" y="495.5" width="4" height="21" fill="none" stroke="#bb5049" stroke-width="1"/>
<rect x="903" y="500" width="4" height="17" fill="#00f4f4"/>
<rect x="910" y="495" width="4" height="22" fill="#00f4f4"/>
<rect x="917" y="499" width="4" height="18" fill="#00f4f4"/>
<rect x="923" y="504" width="4" height="13" fill="#00f4f4"/>
<rect x="930" y="504" width="4" height="13" fill="#00f4f4"/>
<rect x="936.5" y="507.5" width="4" height="9" fill="none" stroke="#bb5049" stroke-width="1"/>
<rect x="943" y="505" width="4" height="12" fill="#00f4f4"/>
<rect x="949.5" y="482.5" width="4" height="34" fill="none" stroke="#bb5049" stroke-width="1"/>
<rect x="956" y="493" width="4" height="24" fill="#00f4f4"/>
<rect x="962.5" y="459.5" width="4" height="57" fill="none" stroke="#bb5049" stroke-width="1"/>
<rect x="969" y="469" width="4" height="48" fill="#00f4f4"/>
<rect x="975.5" y="455.5" width="4" height="61" fill="none" stroke="#bb5049" stroke-width="1"/>
<polyline points="2.52,484.30 9.06,484.80 15.61,485.30 22.15,485.80 28.69,486.25 35.24,488.00 41.78,489.80 48.32,491.50 54.86,493.50 61.41,496.10 67.95,497.08 74.49,496.69 81.04,496.69 87.58,496.16 94.12,494.05 100.66,492.74 107.21,491.24 113.75,487.51 120.29,485.46 126.84,484.80 133.38,484.21 139.92,484.36 146.47,484.42 153.01,484.75 159.55,487.49 166.10,489.09 172.64,490.92 179.18,495.92 185.72,498.57 192.27,498.96 198.81,499.22 205.35,499.23 211.90,498.73 218.44,498.19 224.98,497.92 231.53,497.81 238.07,497.66 244.61,497.01 251.15,496.98 257.70,497.30 264.24,495.72 270.78,495.68 277.33,495.87 283.87,495.58 290.41,495.11 296.95,494.33 303.50,493.55 310.04,492.92 316.58,490.25 323.13,486.34 329.67,485.83 336.21,483.45 342.76,479.98 349.30,476.40 355.84,474.10 362.38,472.99 368.93,471.68 375.47,471.00 382.01,472.07 388.56,475.10 395.10,473.44 401.64,474.90 408.19,478.31 414.73,482.85 421.27,485.44 427.81,486.69 434.36,487.18 440.90,487.08 447.44,487.32 453.99,487.47 460.53,490.74 467.07,491.51 473.62,491.08 480.16,489.28 486.70,488.88 493.25,489.02 499.79,490.19 506.33,489.19 512.87,483.07 519.42,476.77 525.96,473.42 532.50,470.83 539.05,468.18 545.59,469.16 552.13,469.28 558.67,469.28 565.22,467.53 571.76,467.92 578.30,473.98 584.85,480.32 591.39,483.73 597.93,485.93 604.48,489.15 611.02,489.30 617.56,489.44 624.11,489.44 630.65,491.23 637.19,493.21 643.73,493.79 650.28,494.13 656.82,494.82 663.36,496.09 669.91,496.83 676.45,498.28 682.99,499.55 689.53,500.59 696.08,501.67 702.62,502.19 709.16,503.13 715.71,502.85 722.25,503.14 728.79,503.18 735.34,502.89 741.88,502.85 748.42,502.85 754.97,502.75 761.51,502.71 768.05,502.91 774.59,502.62 781.14,503.52 787.68,503.49 794.22,502.93 800.77,503.29 807.31,503.26 813.85,503.23 820.39,503.49 826.94,502.73 833.48,502.80 840.02,503.35 846.57,503.34 853.11,502.87 859.65,501.25 866.20,500.07 872.74,499.24 879.28,498.67 885.83,497.45 892.37,497.25 898.91,496.22 905.45,495.53 912.00,494.60 918.54,494.60 925.08,496.85 931.63,498.03 938.17,499.11 944.71,499.68 951.25,498.42 957.80,498.20 964.34,494.61 970.88,491.50 977.43,487.50" fill="none" stroke="#b020b0" stroke-width="1"/>
<polyline points="2.52,479.40 9.06,484.00 15.61,489.80 22.15,496.00 28.69,495.60 35.24,496.66 41.78,496.34 48.32,495.08 54.86,494.88 61.41,496.60 67.95,497.50 74.49,497.04 81.04,498.30 87.58,497.44 94.12,491.50 100.66,487.98 107.21,485.44 113.75,476.72 120.29,473.48 126.84,478.10 133.38,480.44 139.92,483.28 146.47,492.12 153.01,496.02 159.55,496.88 166.10,497.74 172.64,498.56 179.18,499.72 185.72,501.12 192.27,501.04 198.81,500.70 205.35,499.90 211.90,497.74 218.44,495.26 224.98,494.80 231.53,494.92 238.07,495.42 244.61,496.28 251.15,498.70 257.70,499.80 264.24,496.52 270.78,495.94 277.33,495.46 283.87,492.46 290.41,490.42 296.95,492.14 303.50,491.16 310.04,490.38 316.58,488.04 323.13,482.26 329.67,479.52 336.21,475.74 342.76,469.58 349.30,464.76 355.84,465.94 362.38,466.46 368.93,467.62 375.47,472.42 382.01,479.38 388.56,484.26 395.10,480.42 401.64,482.18 408.19,484.20 414.73,486.32 421.27,486.62 427.81,492.96 434.36,492.18 440.90,489.96 447.44,488.32 453.99,488.32 460.53,488.51 467.07,490.85 473.62,492.21 480.16,490.25 486.70,489.43 493.25,489.54 499.79,489.54 506.33,486.18 512.87,475.90 519.42,464.12 525.96,457.30 532.50,452.12 539.05,450.18 545.59,462.42 552.13,474.44 558.67,481.26 565.22,482.94 571.76,485.66 578.30,485.54 584.85,486.20 591.39,486.20 597.93,488.92 604.48,492.64 611.02,493.06 617.56,492.68 624.11,492.68 630.65,493.54 637.19,493.78 643.73,494.52 650.28,495.58 656.82,496.96 663.36,498.64 669.91,499.88 676.45,502.04 682.99,503.52 689.53,504.22 696.08,504.70 702.62,504.50 709.16,504.22 715.71,502.18 722.25,502.06 728.79,501.66 735.34,501.28 741.88,501.48 748.42,503.52 754.97,503.44 761.51,503.76 768.05,504.54 774.59,503.76 781.14,503.52 787.68,503.54 794.22,502.10 800.77,502.04 807.31,502.76 813.85,502.94 820.39,503.44 826.94,503.36 833.48,503.56 840.02,503.94 846.57,503.74 853.11,502.30 859.65,499.14 866.20,496.58 872.74,494.54 879.28,493.60 885.83,492.60 892.37,495.36 898.91,495.86 905.45,496.51 912.00,495.59 918.54,496.59 925.08,498.33 931.63,500.19 938.17,501.70 944.71,503.76 951.25,500.24 957.80,498.08 964.34,489.02 970.88,481.30 977.43,471.24" fill="none" stroke="#b0b000" stroke-width="1"/>
<!-- texts -->
<text transform="translate(993.22,47) scale(0.8,1)" x="2.27 6.82 11.37 15.92 20.47 25.02 29.57" y="0" text-anchor="middle" font-family="Liberation Serif" font-size="8.1" font-weight="normal" fill="#9a9a9a">1250.00</text>
<text transform="translate(993.22,88) scale(0.8,1)" x="2.27 6.82 11.37 15.92 20.47 25.02 29.57" y="0" text-anchor="middle" font-family="Liberation Serif" font-size="8.1" font-weight="normal" fill="#9a9a9a">1200.00</text>
<text transform="translate(993.22,130) scale(0.8,1)" x="2.27 6.82 11.37 15.92 20.47 25.02 29.57" y="0" text-anchor="middle" font-family="Liberation Serif" font-size="8.1" font-weight="normal" fill="#9a9a9a">1150.00</text>
<text transform="translate(993.22,171) scale(0.8,1)" x="2.27 6.82 11.37 15.92 20.47 25.02 29.57" y="0" text-anchor="middle" font-family="Liberation Serif" font-size="8.1" font-weight="normal" fill="#9a9a9a">1100.00</text>
<text transform="translate(993.22,213) scale(0.8,1)" x="2.27 6.82 11.37 15.92 20.47 25.02 29.57" y="0" text-anchor="middle" font-family="Liberation Serif" font-size="8.1" font-weight="normal" fill="#9a9a9a">1050.00</text>
<text transform="translate(993.22,254) scale(0.8,1)" x="2.27 6.82 11.37 15.92 20.47 25.02 29.57" y="0" text-anchor="middle" font-family="Liberation Serif" font-size="8.1" font-weight="normal" fill="#9a9a9a">1000.00</text>
<text transform="translate(996.86,295) scale(0.8,1)" x="2.27 6.82 11.37 15.92 20.47 25.02" y="0" text-anchor="middle" font-family="Liberation Serif" font-size="8.1" font-weight="normal" fill="#9a9a9a">950.00</text>
<text transform="translate(996.86,337) scale(0.8,1)" x="2.27 6.82 11.37 15.92 20.47 25.02" y="0" text-anchor="middle" font-family="Liberation Serif" font-size="8.1" font-weight="normal" fill="#9a9a9a">900.00</text>
<text transform="translate(996.86,378) scale(0.8,1)" x="2.27 6.82 11.37 15.92 20.47 25.02" y="0" text-anchor="middle" font-family="Liberation Serif" font-size="8.1" font-weight="normal" fill="#9a9a9a">850.00</text>
<text transform="translate(993.22,431) scale(0.8,1)" x="2.27 6.82 11.37 15.92 20.47 25.02 29.57" y="0" text-anchor="middle" font-family="Liberation Serif" font-size="8.1" font-weight="normal" fill="#9a9a9a">1997.00</text>
<text transform="translate(993.22,454) scale(0.8,1)" x="2.27 6.82 11.37 15.92 20.47 25.02 29.57" y="0" text-anchor="middle" font-family="Liberation Serif" font-size="8.1" font-weight="normal" fill="#9a9a9a">1470.00</text>
<text transform="translate(996.86,476) scale(0.8,1)" x="2.27 6.82 11.37 15.92 20.47 25.02" y="0" text-anchor="middle" font-family="Liberation Serif" font-size="8.1" font-weight="normal" fill="#9a9a9a">984.00</text>
<text transform="translate(996.86,497.5) scale(0.8,1)" x="2.27 6.82 11.37 15.92 20.47 25.02" y="0" text-anchor="middle" font-family="Liberation Serif" font-size="8.1" font-weight="normal" fill="#9a9a9a">499.00</text>
<text transform="translate(1004.1400000000001,515) scale(0.8,1)" x="2.27 6.82 11.37 15.92" y="0" text-anchor="middle" font-family="Liberation Serif" font-size="8.1" font-weight="normal" fill="#9a9a9a">0.00</text>
<text transform="translate(939.8,32.4) scale(0.78,1)" x="2.40 7.19 11.99 16.78 21.58 26.37 31.17" y="0" text-anchor="middle" font-family="Liberation Serif" font-size="8.4" font-weight="normal" fill="#dedede">1267.78</text>
<text transform="translate(25.6,406.8) scale(0.78,1)" x="2.40 7.19 11.99 16.78 21.58 26.37" y="0" text-anchor="middle" font-family="Liberation Serif" font-size="8.4" font-weight="normal" fill="#dedede">815.60</text>
<text transform="translate(89.9,359) scale(0.78,1)" x="2.37 7.12 11.86 16.60 21.35 26.09 30.83 35.58 40.32 45.06 49.81 54.55 59.29" y="0" text-anchor="middle" font-family="Liberation Serif" font-size="8.0" font-weight="normal" fill="#7c7c7c">877.60-878.02</text>
<text transform="translate(83.1,374.2) scale(0.78,1)" x="2.37 7.12 11.86 16.60 21.35 26.09 30.83 35.58 40.32 45.06 49.81 54.55 59.29" y="0" text-anchor="middle" font-family="Liberation Serif" font-size="8.0" font-weight="normal" fill="#7c7c7c">859.47-861.54</text>
<text transform="translate(13.6,424.1) scale(0.75,1)" x="2.45 7.36 12.27 17.17 22.08 26.99 31.89 36.80 41.71" y="0" text-anchor="middle" font-family="Liberation Serif" font-size="8.8" font-weight="normal" fill="#8c8c8c">VOL(5,10)</text>
<text transform="translate(51.7,424.1) scale(0.75,1)" x="2.53 7.60 12.67 17.73 22.80 27.87 32.93 38.00 43.07 48.13 53.20 58.27 63.33 68.40 73.47" y="0" text-anchor="middle" font-family="Liberation Serif" font-size="8.8" font-weight="normal" fill="#e0e0e0">VOLUME:1407.424</text>
<text transform="translate(125.9,424.1) scale(0.75,1)" x="2.50 7.50 12.50 17.50 22.50 27.50 32.50 37.50 42.50 47.50 52.50 57.50 62.50 67.50 72.50" y="0" text-anchor="middle" font-family="Liberation Serif" font-size="8.8" font-weight="normal" fill="#e0e000">MAVOL1:1023.699</text>
<text transform="translate(200.7,424.1) scale(0.75,1)" x="2.48 7.44 12.40 17.36 22.32 27.28 32.24 37.20 42.16 47.12 52.08 57.04 62.00 66.96" y="0" text-anchor="middle" font-family="Liberation Serif" font-size="8.8" font-weight="normal" fill="#e000e0">MAVOL2:654.403</text>
<!-- arrows -->
<path d="M968 30.5 H976 M973.5 28.5 L976 30.5 L973.5 32.5" stroke="#e0e0e0" stroke-width="1" fill="none"/>
<path d="M17 404.5 H25 M19.5 402.5 L17 404.5 L19.5 406.5" stroke="#e0e0e0" stroke-width="1" fill="none"/>
<!-- volume header -->
<rect x="0.5" y="417.5" width="8" height="8" fill="none" stroke="#4a4a4a" stroke-width="1"/>
<text x="2.6" y="424" font-family="Liberation Sans" font-size="7" font-weight="bold" fill="#aaa">?</text>

<g font-size="7">
<text x="108" y="423.7" fill="#e0e0e0">万</text>
<text x="181.6" y="423.7" fill="#e0e000">万</text>
<text x="252.6" y="423.7" fill="#e000e0">万</text>
</g>
<path d="M120.5 418 V426 M118 420.8 L120.5 418 L123 420.8" stroke="#e0e0e0" stroke-width="1" fill="none"/>
<path d="M195.3 418 V426 M192.8 420.8 L195.3 418 L197.8 420.8" stroke="#e0e000" stroke-width="1" fill="none"/>
<path d="M266.2 418 V426 M263.7 420.8 L266.2 418 L268.7 420.8" stroke="#e000e0" stroke-width="1" fill="none"/>
<g font-size="7.5" fill="#a0a0a0">
<text x="893.4" y="424.3" textLength="22.5" lengthAdjust="spacingAndGlyphs">改参数</text>
<text x="920.8" y="424.3" textLength="22.5" lengthAdjust="spacingAndGlyphs">加指标</text>
<text x="949.2" y="424.3" textLength="22.2" lengthAdjust="spacingAndGlyphs">换指标</text>
</g>
<rect x="977.5" y="417.5" width="8" height="8" fill="none" stroke="#4a4a4a" stroke-width="1"/>
<path d="M979.3 419.3 L983.7 423.7 M983.7 419.3 L979.3 423.7" stroke="#888" stroke-width="0.8"/>
<!-- title -->
<text x="2.4" y="11.7" font-size="7.6" fill="#dcd68a" font-weight="bold" textLength="29.3" lengthAdjust="spacingAndGlyphs">船舶制造</text>
<g font-size="7.5" fill="#8a8a8a"><text x="36.3" y="11.8" font-family="Liberation Serif">(</text><text x="39.6" y="11.8">日线</text><text x="54.6" y="11.8" font-family="Liberation Sans">,</text><text x="58" y="11.8">前复权</text><text x="82.3" y="11.8" font-family="Liberation Serif">)</text></g>
<polygon points="93.7,4.6 97.1,6.55 97.1,10.45 93.7,12.4 90.3,10.45 90.3,6.55" fill="none" stroke="#5c5c5c" stroke-width="1"/>
<circle cx="93.7" cy="8.6" r="1.7" fill="none" stroke="#5c5c5c" stroke-width="0.9"/>
<text x="945.8" y="12" font-size="7.5" fill="#9a9a9a">设置均线</text>
<path d="M978 8 L981 8 L979.5 9.8 Z" fill="#9a9a9a"/>
</svg>
</body></html>
